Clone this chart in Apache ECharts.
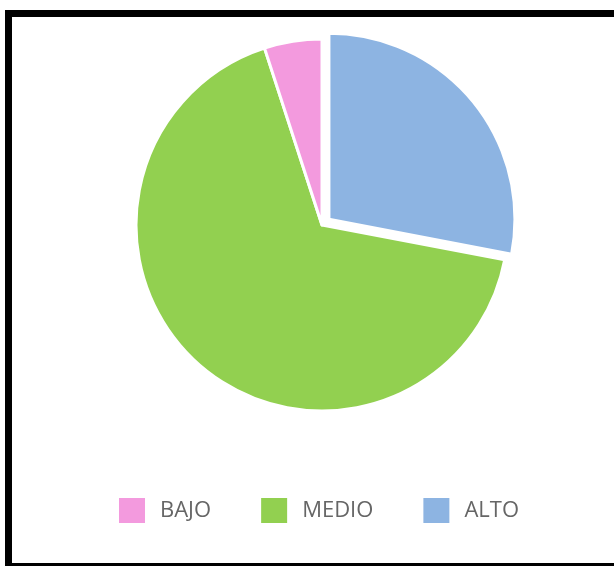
<!DOCTYPE html>
<html>
<head>
<meta charset="utf-8">
<script src="https://cdn.jsdelivr.net/npm/echarts@6/dist/echarts.min.js"></script>
<style>
  html, body { margin: 0; padding: 0; background: #fff; overflow: hidden; }
  #frame { position: absolute; left: 5px; top: 10px; width: 640px; height: 546px;
           border: 7px solid #000; border-right: none; background: #fff; }
  #main { position: absolute; left: 0; top: 0; width: 614px; height: 566px; }
</style>
</head>
<body>
<div id="frame"></div>
<div id="main"></div>
<script>
    var categories = ['ALTO', 'MEDIO', 'BAJO'];
    var values = [28, 67, 5];
    var colors = ['#8db4e2', '#92d050', '#f39ade'];
    var legendOrder = ['BAJO', 'MEDIO', 'ALTO'];

    var chartDom = document.getElementById('main');
    var myChart = echarts.init(chartDom, null, { renderer: 'canvas' });
    var option;

    option = {
        backgroundColor: 'transparent',
        animation: false,
        color: colors,
        legend: {
            data: legendOrder,
            left: 117,
            top: 496,
            padding: 0,
            icon: 'rect',
            itemWidth: 28,
            itemHeight: 27,
            itemGap: 48,
            selectedMode: false,
            textStyle: {
                fontFamily: 'Open Sans',
                fontSize: 22,
                color: '#666',
                padding: [0, 0, 0, 9]
            }
        },
        series: [
            {
                name: 'Nivel',
                type: 'pie',
                center: [322, 225],
                radius: 186,
                startAngle: 90,
                clockwise: true,
                selectedMode: 'single',
                selectedOffset: 9,
                label: { show: false },
                labelLine: { show: false },
                emphasis: { disabled: true },
                itemStyle: {
                    borderColor: '#fff',
                    borderWidth: 3
                },
                data: categories.map(function (name, i) {
                    return { name: name, value: values[i], selected: name === 'ALTO' };
                })
            }
        ]
    };

    option && myChart.setOption(option);
</script>
</body>
</html>
